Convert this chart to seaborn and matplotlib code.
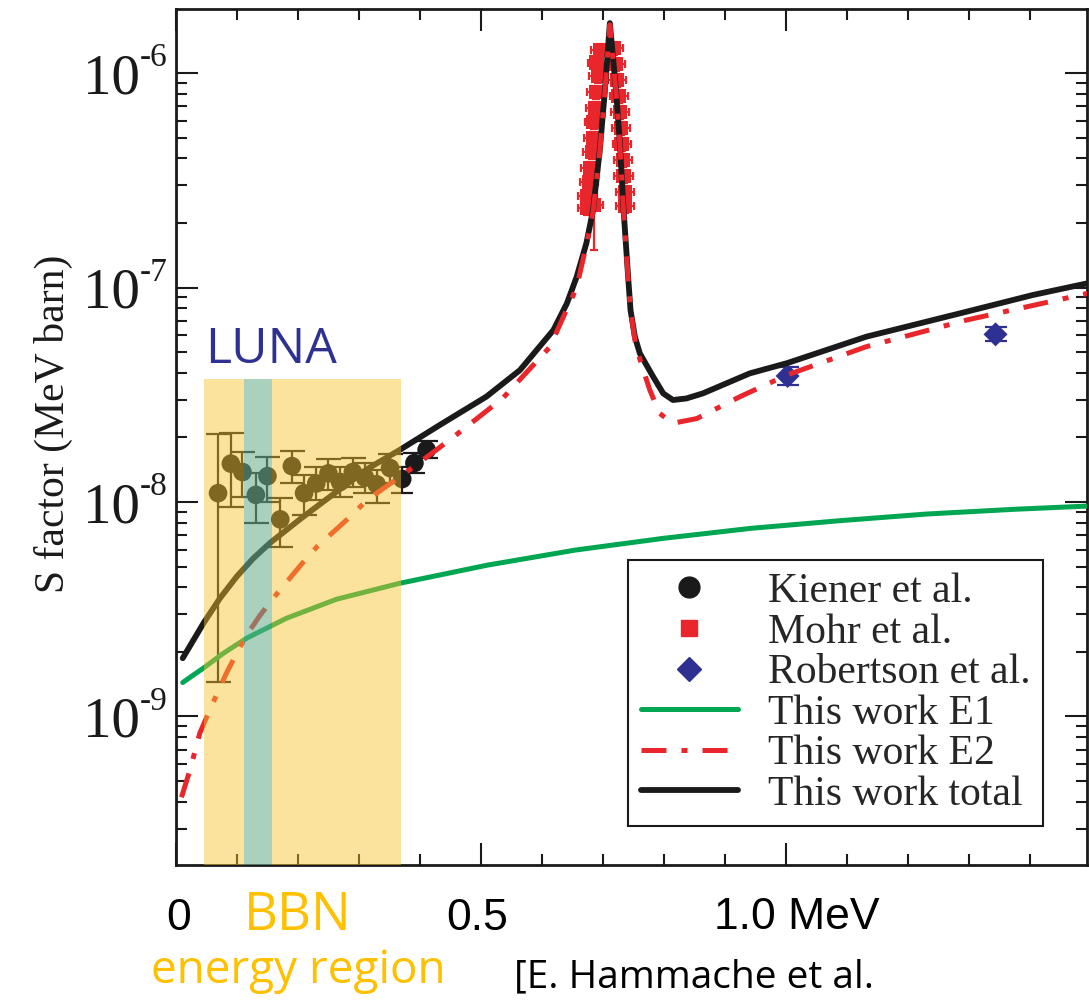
import matplotlib
matplotlib.use("Agg")
import matplotlib.pyplot as plt
from matplotlib.lines import Line2D
from matplotlib.ticker import LogLocator, MultipleLocator, NullFormatter
from matplotlib.transforms import blended_transform_factory
import seaborn as sns

# values: E in MeV, S in MeV barn
total_E = [0.011, 0.045, 0.0721, 0.0995, 0.1267, 0.154, 0.208, 0.264, 0.318, 0.367,
           0.433, 0.455, 0.509, 0.564, 0.619, 0.641, 0.657, 0.673, 0.684, 0.695,
           0.703, 0.7115, 0.722, 0.728, 0.734, 0.7415, 0.7454, 0.7525, 0.7607, 0.7825,
           0.799, 0.815, 0.837, 0.864, 0.941, 1.003, 1.132, 1.296, 1.405, 1.497]
total_S = [1.87e-9, 2.72e-9, 3.56e-9, 4.49e-9, 5.46e-9, 6.44e-9, 8.51e-9, 1.12e-8, 1.45e-8, 1.75e-8,
           2.29e-8, 2.50e-8, 3.10e-8, 4.12e-8, 6.34e-8, 8.43e-8, 1.12e-7, 1.61e-7, 2.30e-7, 4.38e-7,
           8.04e-7, 1.71e-6, 8.04e-7, 4.70e-7, 2.30e-7, 1.12e-7, 7.85e-8, 5.90e-8, 4.93e-8, 3.84e-8,
           3.21e-8, 2.99e-8, 3.04e-8, 3.21e-8, 3.98e-8, 4.45e-8, 5.90e-8, 7.71e-8, 9.23e-8, 1.05e-7]

e2_E = [0.009, 0.023, 0.039, 0.053, 0.083, 0.0995, 0.116, 0.137, 0.157, 0.206,
        0.231, 0.285, 0.313, 0.367, 0.427, 0.455, 0.536, 0.613, 0.657, 0.673,
        0.684, 0.695, 0.703, 0.7115, 0.722, 0.728, 0.734, 0.7415, 0.7454, 0.7525,
        0.761, 0.777, 0.793, 0.815, 0.854, 0.925, 1.002, 1.132, 1.296, 1.470, 1.497]
e2_S = [4.20e-10, 5.64e-10, 8.36e-10, 1.035e-9, 1.60e-9, 1.97e-9, 2.40e-9, 2.94e-9, 3.49e-9, 5.14e-9,
        6.18e-9, 8.51e-9, 1.02e-8, 1.31e-8, 1.75e-8, 2.01e-8, 3.05e-8, 5.28e-8, 1.00e-7, 1.58e-7,
        2.26e-7, 4.32e-7, 7.94e-7, 1.68e-6, 7.94e-7, 4.62e-7, 2.26e-7, 1.10e-7, 7.90e-8, 5.70e-8,
        4.60e-8, 3.33e-8, 2.59e-8, 2.33e-8, 2.45e-8, 3.10e-8, 3.91e-8, 5.30e-8, 7.05e-8, 9.06e-8, 9.42e-8]

e1_E = [0.011, 0.0284, 0.0448, 0.0776, 0.116, 0.181, 0.263, 0.367, 0.511, 0.655,
        0.799, 0.943, 1.088, 1.231, 1.375, 1.497]
e1_S = [1.44e-9, 1.56e-9, 1.68e-9, 1.97e-9, 2.32e-9, 2.87e-9, 3.52e-9, 4.18e-9, 5.08e-9, 5.97e-9,
        6.77e-9, 7.54e-9, 8.18e-9, 8.79e-9, 9.25e-9, 9.58e-9]

luna_E = [0.069, 0.090, 0.109, 0.131, 0.150, 0.171, 0.190, 0.210, 0.230, 0.250, 0.269, 0.290, 0.310, 0.329, 0.351]
luna_S = [1.10e-8, 1.51e-8, 1.38e-8, 1.08e-8, 1.32e-8, 8.3e-9, 1.47e-8, 1.10e-8, 1.22e-8, 1.36e-8,
          1.24e-8, 1.38e-8, 1.30e-8, 1.21e-8, 1.44e-8]
luna_lo = [1.45e-9, 9.5e-9, 1.06e-8, 7.98e-9, 1.00e-8, 6.19e-9, 1.23e-8, 8.7e-9, 1.02e-8, 1.14e-8,
           1.06e-8, 1.18e-8, 1.10e-8, 0.99e-8, 1.22e-8]
luna_hi = [2.07e-8, 2.10e-8, 1.71e-8, 1.36e-8, 1.63e-8, 1.04e-8, 1.73e-8, 1.34e-8, 1.46e-8, 1.59e-8,
           1.46e-8, 1.60e-8, 1.52e-8, 1.41e-8, 1.67e-8]

kiener_E = [0.371, 0.391, 0.411]
kiener_S = [1.28e-8, 1.52e-8, 1.75e-8]
kiener_lo = [1.10e-8, 1.36e-8, 1.60e-8]
kiener_hi = [1.46e-8, 1.70e-8, 1.92e-8]

mohr_E = [0.695, 0.690, 0.692, 0.689, 0.687, 0.685, 0.684, 0.682, 0.679, 0.677, 0.675, 0.674,
          0.718, 0.721, 0.723, 0.726, 0.728, 0.730, 0.731, 0.733, 0.734, 0.736, 0.736, 0.685]
mohr_S = [1.28e-6, 1.12e-6, 9.68e-7, 8.15e-7, 6.87e-7, 5.91e-7, 4.98e-7, 4.28e-7, 3.61e-7, 3.10e-7,
          2.67e-7, 2.35e-7, 1.31e-6, 1.10e-6, 9.27e-7, 7.81e-7, 6.58e-7, 5.54e-7, 4.67e-7, 3.93e-7,
          3.31e-7, 2.79e-7, 2.40e-7, 2.43e-7]
mohr_dE = [0.015] * 24
mohr_lo = [s * 0.93 for s in mohr_S[:-1]] + [1.50e-7]
mohr_hi = [s * 1.07 for s in mohr_S[:-1]] + [3.50e-7]

rob_E = [1.003, 1.344]
rob_S = [3.87e-8, 6.05e-8]
rob_lo = [3.50e-8, 5.62e-8]
rob_hi = [4.27e-8, 6.55e-8]

bbn_band = (0.046, 0.369)
luna_band = (0.1115, 0.1574)
band_top = 3.74e-8

ytick_vals = [1e-9, 1e-8, 1e-7, 1e-6]
ytick_base = ["10", "10", "10", "10"]
ytick_exp = ["-9", "-8", "-7", "-6"]
legend_labels = ["Kiener et al.", "Mohr et al.", "Robertson et al.",
                 "This work E1", "This work E2", "This work total"]

BLACK = "#1a1a1a"
RED = "#E8262B"
GREEN = "#00A651"
BLUE = "#2E3192"
ORANGE = "#FFC000"

sns.set_style("ticks")
serif = ["Liberation Serif", "DejaVu Serif"]
plt.rcParams["font.family"] = serif

fig = plt.figure(figsize=(10.89, 10.0), dpi=100)
ax = fig.add_axes([176 / 1089, 135 / 1000, 911 / 1089, 856 / 1000])
ax.set_yscale("log")

e2_dash = (0, (5, 3, 1.2, 3))
sns.lineplot(x=e1_E, y=e1_S, ax=ax, color=GREEN, lw=3.6, estimator=None, sort=False, zorder=3)
sns.lineplot(x=total_E, y=total_S, ax=ax, color=BLACK, lw=4.2, estimator=None, sort=False, zorder=4)
sns.lineplot(x=e2_E, y=e2_S, ax=ax, color=RED, lw=3.6, linestyle=e2_dash,
             estimator=None, sort=False, zorder=4.5)

# data points with error bars
def yerr(vals, lo, hi):
    return [[v - l for v, l in zip(vals, lo)], [h - v for v, h in zip(vals, hi)]]

ax.errorbar(luna_E, luna_S, yerr=yerr(luna_S, luna_lo, luna_hi), fmt="none",
            ecolor=BLACK, elinewidth=1.6, capsize=9, capthick=1.6, zorder=2)
ax.errorbar(kiener_E, kiener_S, yerr=yerr(kiener_S, kiener_lo, kiener_hi), fmt="none",
            ecolor=BLACK, elinewidth=1.6, capsize=8, capthick=1.6, zorder=2)
ax.errorbar(mohr_E, mohr_S, xerr=mohr_dE, yerr=yerr(mohr_S, mohr_lo, mohr_hi), fmt="none",
            ecolor=RED, elinewidth=1.6, capsize=3, capthick=1.6, zorder=2)
ax.errorbar(rob_E, rob_S, yerr=yerr(rob_S, rob_lo, rob_hi), fmt="none",
            ecolor=BLUE, elinewidth=1.6, capsize=8, capthick=1.6, zorder=2)

sns.scatterplot(x=luna_E + kiener_E, y=luna_S + kiener_S, ax=ax, marker="o", s=180,
                color=BLACK, edgecolor="none", zorder=2.5)
sns.scatterplot(x=mohr_E, y=mohr_S, ax=ax, marker="s", s=110, color=RED, edgecolor="none", zorder=2.5)
sns.scatterplot(x=rob_E, y=rob_S, ax=ax, marker="D", s=150, color=BLUE, edgecolor="none", zorder=2.5)

ax.set_xlim(0, 1.494)
ax.set_ylim(2.03e-10, 1.99e-6)

# BBN (yellow) and LUNA (green) energy bands laid over the data
ybot = ax.get_ylim()[0]
ax.fill_between([bbn_band[0], luna_band[0]], ybot, band_top, color="#FAC42B", alpha=0.46, lw=0, zorder=6)
ax.fill_between([luna_band[1], bbn_band[1]], ybot, band_top, color="#FAC42B", alpha=0.46, lw=0, zorder=6)
ax.fill_between([luna_band[0], luna_band[1]], ybot, band_top, color="#69AF8C", alpha=0.57, lw=0, zorder=6)

# axes styling
ax.xaxis.set_major_locator(MultipleLocator(0.5))
ax.xaxis.set_minor_locator(MultipleLocator(0.1))
ax.xaxis.set_major_formatter(NullFormatter())
ax.set_yticks(ytick_vals, ytick_base, family=serif)
ax.yaxis.set_minor_locator(LogLocator(base=10, subs=range(2, 10), numticks=20))
ax.yaxis.set_minor_formatter(NullFormatter())
ax.tick_params(which="both", direction="in", top=True, right=True, width=1.5, colors=BLACK)
ax.tick_params(which="major", length=16)
ax.tick_params(which="minor", length=8)
ax.tick_params(axis="y", which="major", labelsize=41, pad=26)
for sp in ax.spines.values():
    sp.set_linewidth(2.0)
    sp.set_color(BLACK)

# exponents of the decade labels
blend = blended_transform_factory(ax.transAxes, ax.transData)
for val, ex in zip(ytick_vals, ytick_exp):
    ax.annotate(ex, xy=(-0.0395, val), xycoords=blend, xytext=(0, 5), textcoords="offset points",
                ha="left", va="baseline", fontsize=24, family=serif, color=BLACK, annotation_clip=False)

ax.set_xlabel("")
ax.set_ylabel("S factor (MeV barn)", fontsize=30, color=BLACK, family=serif)
ax.yaxis.set_label_coords(-0.113, 0.515)

handles = [
    Line2D([0], [0], marker="o", ls="none", color=BLACK, ms=15),
    Line2D([0], [0], marker="s", ls="none", color=RED, ms=12),
    Line2D([0], [0], marker="D", ls="none", color=BLUE, ms=12),
    Line2D([0], [0], color=GREEN, lw=3.6),
    Line2D([0], [0], color=RED, lw=3.6, linestyle=e2_dash),
    Line2D([0], [0], color=BLACK, lw=4.2),
]
leg = ax.legend(handles, legend_labels, loc="upper left", bbox_to_anchor=(628 / 1089, 1 - 560 / 1000),
                bbox_transform=fig.transFigure, borderaxespad=0, frameon=True,
                fancybox=False, framealpha=1, edgecolor=BLACK, handlelength=2.35,
                handletextpad=0.7, labelspacing=0.05, borderpad=0.3, prop={"family": serif, "size": 30})
leg.get_frame().set_linewidth(1.5)
leg.set_zorder(10)

# annotations drawn on top of the original figure
sans = ["Liberation Sans", "DejaVu Sans"]
hand = ["Open Sans", "DejaVu Sans"]
fig.text(179 / 1089, 0.070, "0", fontsize=32, family=sans, ha="center", va="baseline", color="black")
fig.text(477 / 1089, 0.070, "0.5", fontsize=32, family=sans, ha="center", va="baseline", color="black")
fig.text(797 / 1089, 0.071, "1.0 MeV", fontsize=32, family=sans, ha="center", va="baseline", color="black")
fig.text(298 / 1089, 0.070, "BBN", fontsize=38, family=hand, ha="center", va="baseline", color=ORANGE)
fig.text(298 / 1089, 0.017, "energy region", fontsize=33, family=hand, ha="center", va="baseline", color=ORANGE)
fig.text(514 / 1089, 0.013, "[E. Hammache et al.", fontsize=28, family=hand, ha="left", va="baseline", color="black")
fig.text(205 / 1089, 0.637, "LUNA", fontsize=36, family=hand, ha="left", va="baseline", color=BLUE)

fig.savefig("out.png", dpi=100)
